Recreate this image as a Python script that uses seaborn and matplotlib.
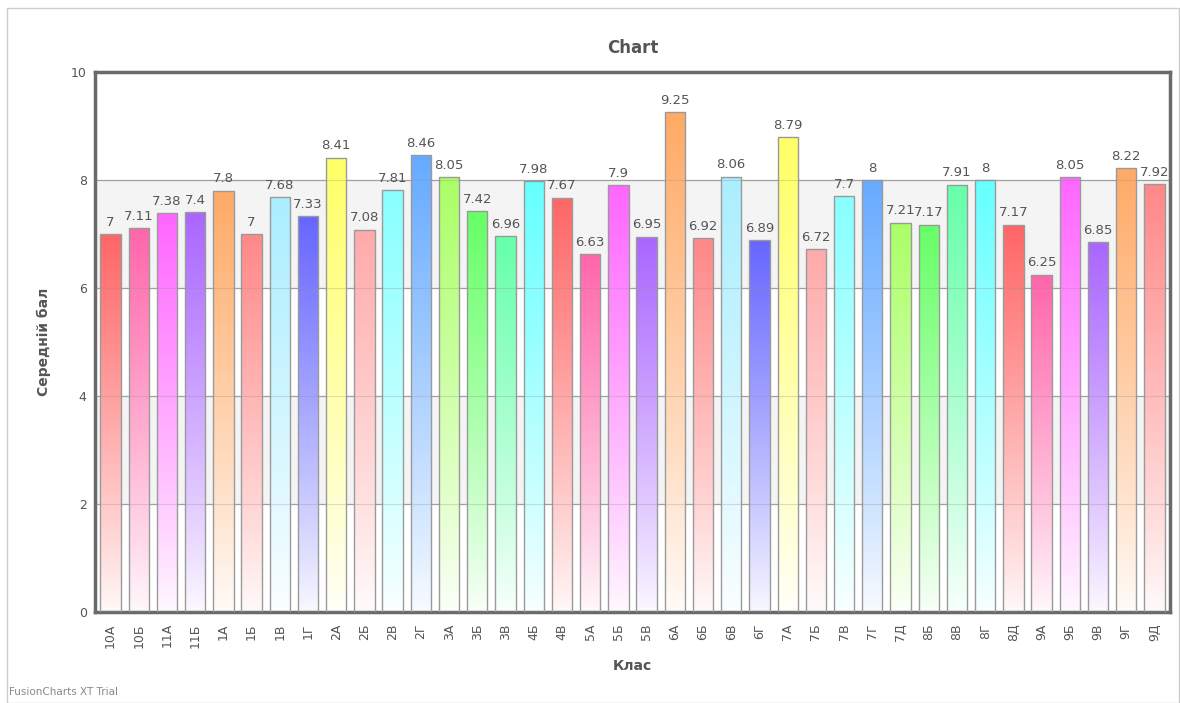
import numpy as np
import pandas as pd
import matplotlib
matplotlib.use('Agg')
import matplotlib.pyplot as plt
import matplotlib.colors as mcolors
from matplotlib.patches import Rectangle
import seaborn as sns

# data
classes = ['10А', '10Б', '11А', '11Б', '1А', '1Б', '1В', '1Г', '2А', '2Б', '2В', '2Г',
           '3А', '3Б', '3В', '4Б', '4В', '5А', '5Б', '5В', '6А', '6Б', '6В', '6Г',
           '7А', '7Б', '7В', '7Г', '7Д', '8Б', '8В', '8Г', '8Д', '9А', '9Б', '9В', '9Г', '9Д']
scores = [7, 7.11, 7.38, 7.4, 7.8, 7, 7.68, 7.33, 8.41, 7.08, 7.81, 8.46,
          8.05, 7.42, 6.96, 7.98, 7.67, 6.63, 7.9, 6.95, 9.25, 6.92, 8.06, 6.89,
          8.79, 6.72, 7.7, 8, 7.21, 7.17, 7.91, 8, 7.17, 6.25, 8.05, 6.85, 8.22, 7.92]
score_labels = ['7', '7.11', '7.38', '7.4', '7.8', '7', '7.68', '7.33', '8.41', '7.08', '7.81', '8.46',
                '8.05', '7.42', '6.96', '7.98', '7.67', '6.63', '7.9', '6.95', '9.25', '6.92', '8.06', '6.89',
                '8.79', '6.72', '7.7', '8', '7.21', '7.17', '7.91', '8', '7.17', '6.25', '8.05', '6.85', '8.22', '7.92']
palette16 = ['#ff6666', '#ff66aa', '#ff66ff', '#aa66ff', '#ffaa66', '#ff8888', '#aaeeff', '#6666ff',
             '#ffff66', '#ffaaaa', '#88ffff', '#66aaff', '#aaff66', '#66ff66', '#66ffaa', '#66ffff']

df = pd.DataFrame({'Клас': classes, 'Середній бал': scores})
colors = [palette16[i % len(palette16)] for i in range(len(classes))]

sns.set_style('white')
plt.rcParams['font.family'] = ['DejaVu Sans']

fig = plt.figure(figsize=(11.8, 7.03), dpi=100)
ax = fig.add_axes([0.0805, 0.1294, 0.911, 0.7682])

sns.barplot(data=df, x='Клас', y='Середній бал', hue='Клас', palette=colors,
            legend=False, width=0.72, edgecolor='#9a9a9a', linewidth=1.0, ax=ax, zorder=2)
bars = list(ax.patches)

# alternating background bands + grid (drawn after, so bars list stays clean)
ax.axhspan(2, 4, facecolor='#f4f4f4', edgecolor='none', zorder=0)
ax.axhspan(6, 8, facecolor='#f4f4f4', edgecolor='none', zorder=0)
for yv in [2, 4, 6, 8]:
    ax.axhline(yv, color='#a8a8a8', lw=0.9, zorder=0.5)
    ax.axhline(yv, color='#909090', lw=0.8, alpha=0.3, zorder=4)

# gradient fill for each bar (colour at top, fading to white at the bottom)
for patch, col in zip(bars, colors):
    x0, y0 = patch.get_x(), patch.get_y()
    w, h = patch.get_width(), patch.get_height()
    rgb = np.array(mcolors.to_rgb(col))
    t = np.linspace(0, 1, 128)[:, None]
    f = 0.04 + 0.96 * t ** 0.9
    grad = (1 - f) * 1.0 + f * rgb[None, :]
    grad = grad[:, None, :]
    im = ax.imshow(grad, extent=[x0, x0 + w, y0, y0 + h], origin='lower',
                   aspect='auto', zorder=2.5, interpolation='bilinear')
    im.set_clip_path(patch)
    patch.set_facecolor('none')
    patch.set_zorder(3)

# value labels
for i, (v, lab) in enumerate(zip(scores, score_labels)):
    ax.text(i, v + 0.1, lab, ha='center', va='bottom', fontsize=9.5, color='#555555', zorder=5)

ax.set_xlim(-0.55, len(classes) - 0.45)
ax.set_ylim(0, 10)
ax.set_yticks([0, 2, 4, 6, 8, 10])
ax.tick_params(axis='y', labelsize=9, colors='#555555', length=0, pad=6)
ax.tick_params(axis='x', labelsize=9, colors='#555555', length=0, pad=8, rotation=90)
for s in ax.spines.values():
    s.set_visible(True)
    s.set_color('#6a6a6a')
    s.set_linewidth(2.5)

ax.set_xlabel('Клас', fontsize=10, fontweight='bold', color='#555555', labelpad=8)
ax.set_ylabel('Середній бал', fontsize=10, fontweight='bold', color='#555555', labelpad=14)
ax.set_title('Chart', fontsize=12, fontweight='bold', color='#555555', pad=14)

fig.text(0.008, 0.008, 'FusionCharts XT Trial', fontsize=7.5, color='#888888', ha='left', va='bottom')
fig.patches.append(Rectangle((0.006, 0.0), 0.993, 0.988, transform=fig.transFigure,
                             fill=False, edgecolor='#cccccc', lw=1))

fig.savefig('out.png', dpi=100)
